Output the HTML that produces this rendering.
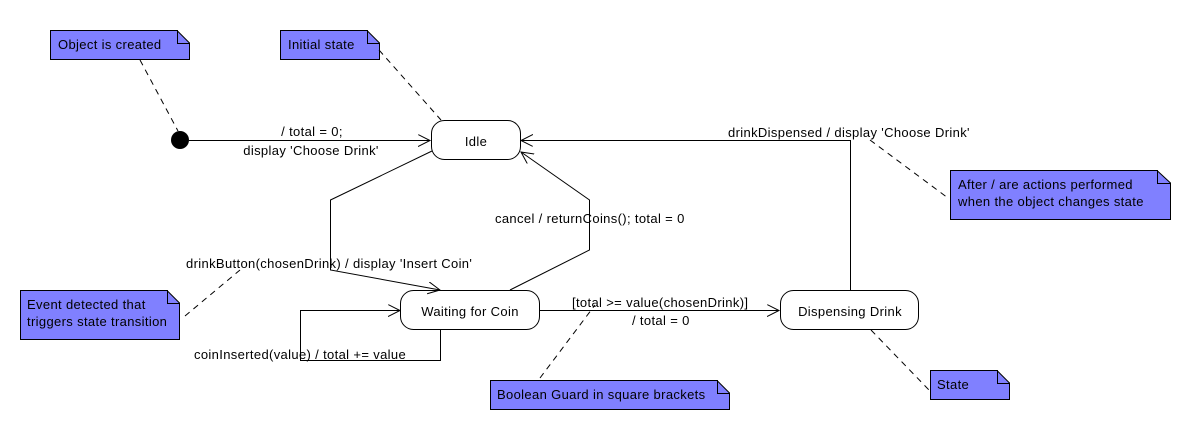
<!DOCTYPE html>
<html><head><style>
html,body{margin:0;padding:0;background:#fff;}
svg{display:block;font-family:"Liberation Sans",Arial,sans-serif;font-size:13px;letter-spacing:0.35px;}
</style></head><body>
<svg width="1190" height="430" viewBox="0 0 1190 430" xmlns="http://www.w3.org/2000/svg">
<defs>
<marker id="a" markerWidth="14" markerHeight="14" refX="12" refY="6" orient="auto" markerUnits="userSpaceOnUse">
<path d="M0,0 L12,6 L0,12" fill="none" stroke="#000" stroke-width="1"/>
</marker>
</defs>
<g fill="#8080ff" stroke="#000" stroke-width="1">
<path d="M50.5,30.5 H177 L189.5,43 V59.5 H50.5 Z"/>
<path d="M280.5,30.5 H367 L379.5,43 V59.5 H280.5 Z"/>
<path d="M20.5,290.5 H167 L179.5,303 V339.5 H20.5 Z"/>
<path d="M490.5,380.5 H717 L729.5,393 V409.5 H490.5 Z"/>
<path d="M930.5,370.5 H997 L1009.5,383 V399.5 H930.5 Z"/>
<path d="M950.5,170.5 H1157 L1170.5,183 V219.5 H950.5 Z"/>
</g>
<g fill="none" stroke="#000" stroke-width="1">
<path d="M177.5,30 V43.5 H189"/><path d="M367.5,30 V43.5 H379"/>
<path d="M167.5,290 V303.5 H179"/><path d="M717.5,380 V393.5 H729"/>
<path d="M997.5,370 V383.5 H1009"/><path d="M1157.5,170 V183.5 H1170"/>
</g>
<g stroke="#000" stroke-width="1" stroke-dasharray="6,5" fill="none">
<line x1="140" y1="60" x2="178" y2="131"/>
<line x1="379" y1="50" x2="441" y2="120"/>
<line x1="185" y1="316" x2="240" y2="270"/>
<line x1="540" y1="378" x2="595" y2="305"/>
<line x1="871" y1="330" x2="929" y2="390"/>
<line x1="870" y1="140" x2="948" y2="198"/>
</g>
<circle cx="180" cy="140" r="9" fill="#000"/>
<g fill="none" stroke="#000" stroke-width="1">
<line x1="189" y1="140.5" x2="430" y2="140.5" marker-end="url(#a)"/>
<polyline points="432,151 330.5,200 330.5,270 440,290" marker-end="url(#a)"/>
<polyline points="510,290 589.5,250 589.5,200 521,152" marker-end="url(#a)"/>
<polyline points="440.5,329 440.5,360.5 300.5,360.5 300.5,310.5 400,310.5" marker-end="url(#a)"/>
<line x1="540" y1="310.5" x2="779" y2="310.5" marker-end="url(#a)"/>
<polyline points="850.5,290 850.5,140.5 521,140.5" marker-end="url(#a)"/>
<rect x="431.5" y="120.5" width="89" height="39" rx="13"/>
<rect x="400.5" y="290.5" width="139" height="39" rx="13"/>
<rect x="780.5" y="290.5" width="138" height="39" rx="13"/>
</g>
<g fill="#000">
<text x="58" y="49">Object is created</text>
<text x="288" y="49">Initial state</text>
<text x="27" y="309">Event detected that</text>
<text x="27" y="326">triggers state transition</text>
<text x="497" y="399">Boolean Guard in square brackets</text>
<text x="937" y="389">State</text>
<text x="958" y="189">After / are actions performed</text>
<text x="958" y="206">when the object changes state</text>
<text x="476" y="146" text-anchor="middle">Idle</text>
<text x="470" y="316" text-anchor="middle">Waiting for Coin</text>
<text x="850" y="316" text-anchor="middle">Dispensing Drink</text>
<text x="312" y="136" text-anchor="middle">/ total = 0;</text>
<text x="311" y="155" text-anchor="middle">display 'Choose Drink'</text>
<text x="186" y="268">drinkButton(chosenDrink) / display 'Insert Coin'</text>
<text x="194" y="359">coinInserted(value) / total += value</text>
<text x="495" y="223">cancel / returnCoins(); total = 0</text>
<text x="572" y="307">[total &gt;= value(chosenDrink)]</text>
<text x="632" y="325">/ total = 0</text>
<text x="728" y="137">drinkDispensed / display 'Choose Drink'</text>
</g>
</svg>
</body></html>
